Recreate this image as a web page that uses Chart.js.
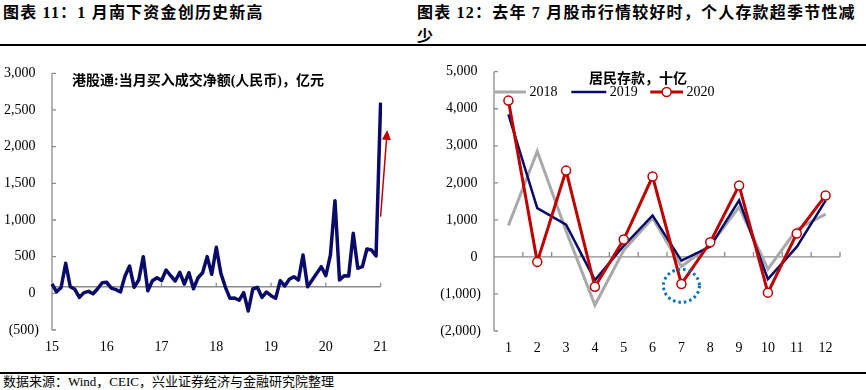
<!DOCTYPE html>
<html>
<head>
<meta charset="utf-8">
<script src="https://cdn.jsdelivr.net/npm/chart.js@4.4.1/dist/chart.umd.min.js"></script>
<style>
body{margin:0;width:866px;height:390px;position:relative;background:#fff;overflow:hidden;font-family:"Liberation Serif","Noto Sans CJK SC",serif;color:#000;}
.ttl{position:absolute;top:1px;font-weight:bold;font-size:16px;line-height:23px;letter-spacing:1.2px;white-space:nowrap;}
.rule{position:absolute;left:0;width:866px;height:2px;background:#000;}
#src{position:absolute;left:3px;top:374px;font-size:13px;line-height:16px;white-space:nowrap;}
canvas{position:absolute;top:60px;}
</style>
</head>
<body>
<div class="ttl" style="left:3px">图表 11：1 月南下资金创历史新高</div>
<div class="ttl" style="left:417px">图表 12：去年 7 月股市行情较好时，个人存款超季节性减<br>少</div>
<div class="rule" style="top:44px"></div>
<canvas id="hkChart" width="410" height="300" style="left:0"></canvas>
<canvas id="depChart" width="433" height="300" style="left:433px"></canvas>
<div class="rule" style="top:372px"></div>
<div id="src">数据来源：Wind，CEIC，兴业证券经济与金融研究院整理</div>
<script>
// left chart: 港股通 monthly net buy, 2015-01 .. 2021-01
const yearLabels=['15','16','17','18','19','20','21'];
const hkMonths=[];
for(let y=2015;y<=2021;y++){
    for(let m=1;m<=12;m++){
        if(y===2021&&m>1) break;
        hkMonths.push(y+'-'+String(m).padStart(2,'0'));
    }
}
const hkNetBuy=[
    130,20,80,410,90,55,-55,10,27,-5,63,145,
    150,72,50,18,236,372,82,181,500,36,172,213,
    175,318,240,168,286,127,281,63,213,281,500,259,
    627,272,82,-68,-64,-95,9,-241,59,82,-55,18,
    -32,-68,172,100,191,227,181,522,90,181,272,363,
    240,522,1263,181,240,236,818,341,363,604,590,509,
    2600
];
const hkCaption='港股通:当月买入成交净额(人民币)，亿元';

// right chart: household deposits by month, 十亿
const depMonths=['1','2','3','4','5','6','7','8','9','10','11','12'];
const dep2018=[850,2850,700,-1300,180,1050,-260,320,1345,-330,740,1155];
const dep2019=[3850,1317,870,-627,300,1120,-100,277,1525,-600,270,1520];
const dep2020=[4220,-134,2330,-806,468,2170,-730,395,1930,-965,630,1660];
const depCaption='居民存款，十亿';

const NAVY='#0a0a6b', RED='#c00000', GREY='#a9a9a9', AXIS='#8c8c8c';
const hkAxisCross=90;

Chart.defaults.font.family="'Liberation Serif','Noto Sans CJK SC',serif";
Chart.defaults.font.size=14;
Chart.defaults.color='#000';

function fmt(v){
    const s=Math.abs(v).toLocaleString('en-US');
    return v<0?'('+s+')':s+' ';
}
// fixed axis width, and no extra top/bottom room for the tick labels
function fitY(w){
    return s=>{s.width=w; s.paddingTop=0; s.paddingBottom=0;};
}

// axes drawn by hand: inside ticks on y, category line crossing mid chart
const hkPlugin={
    id:'hkPlugin',
    beforeDatasetsDraw(chart){
        const {ctx,chartArea:a,scales:{x,y}}=chart;
        ctx.save();
        ctx.strokeStyle=AXIS; ctx.lineWidth=1.3;
        ctx.beginPath();
        ctx.moveTo(a.left,a.top); ctx.lineTo(a.left,a.bottom);
        y.ticks.forEach(t=>{const py=y.getPixelForValue(t.value); ctx.moveTo(a.left,py); ctx.lineTo(a.left+4,py);});
        const py0=y.getPixelForValue(hkAxisCross);
        ctx.moveTo(a.left,py0); ctx.lineTo(a.right,py0);
        yearLabels.forEach((l,k)=>{const px=x.getPixelForValue(k*12); ctx.moveTo(px,py0); ctx.lineTo(px,py0-4);});
        ctx.stroke();
        ctx.restore();
    },
    afterDatasetsDraw(chart){
        const {ctx,scales:{x,y}}=chart;
        ctx.save();
        // red arrow
        const x0=x.getPixelForValue(72.0), y0=y.getPixelForValue(1045);
        const x1=x.getPixelForValue(73.45), y1=y.getPixelForValue(2227);
        const ang=Math.atan2(y1-y0,x1-x0);
        ctx.strokeStyle=RED; ctx.fillStyle=RED; ctx.lineWidth=1.5;
        ctx.beginPath(); ctx.moveTo(x0,y0);
        ctx.lineTo(x1-9*Math.cos(ang),y1-9*Math.sin(ang)); ctx.stroke();
        ctx.beginPath(); ctx.moveTo(x1,y1);
        ctx.lineTo(x1-10*Math.cos(ang)+4.5*Math.sin(ang),y1-10*Math.sin(ang)-4.5*Math.cos(ang));
        ctx.lineTo(x1-10*Math.cos(ang)-4.5*Math.sin(ang),y1-10*Math.sin(ang)+4.5*Math.cos(ang));
        ctx.closePath(); ctx.fill();
        // caption
        ctx.fillStyle='#000';
        ctx.font="bold 14px 'Liberation Serif','Noto Sans CJK SC'";
        ctx.textBaseline='middle';
        ctx.fillText(hkCaption,72,21);
        ctx.restore();
    }
};

new Chart(document.getElementById('hkChart'),{
    type:'line',
    data:{labels:hkMonths,datasets:[{data:hkNetBuy,borderColor:NAVY,borderWidth:3.5,pointRadius:0,tension:0,borderJoinStyle:'round'}]},
    options:{
        responsive:false,animation:false,devicePixelRatio:1,
        layout:{padding:{top:13.3,right:29.4,left:0,bottom:0}},
        plugins:{legend:{display:false},tooltip:{enabled:false}},
        scales:{
            x:{
                grid:{display:false,drawTicks:false},border:{display:false},
                afterFit(s){s.height=30;},
                ticks:{autoSkip:false,maxRotation:0,padding:9,
                    callback:(v,i)=>i%12===0?yearLabels[i/12]:''}
            },
            y:{
                min:-500,max:3000,
                grid:{display:false,drawTicks:false},border:{display:false},
                afterFit:fitY(52),
                ticks:{stepSize:500,padding:13,callback:v=>fmt(v)}
            }
        }
    },
    plugins:[hkPlugin]
});

const depPlugin={
    id:'depPlugin',
    beforeDatasetsDraw(chart){
        const {ctx,chartArea:a,scales:{y}}=chart;
        ctx.save();
        ctx.strokeStyle=AXIS; ctx.lineWidth=1.3;
        ctx.beginPath();
        ctx.moveTo(a.left,a.top); ctx.lineTo(a.left,a.bottom);
        y.ticks.forEach(t=>{const py=y.getPixelForValue(t.value); ctx.moveTo(a.left,py); ctx.lineTo(a.left+4,py);});
        const py0=y.getPixelForValue(0);
        ctx.moveTo(a.left,py0); ctx.lineTo(a.right,py0);
        const w=(a.right-a.left)/depMonths.length;
        depMonths.forEach((m,k)=>{const px=a.left+(k+1)*w; ctx.moveTo(px,py0); ctx.lineTo(px,py0-5);});
        ctx.stroke();
        ctx.restore();
    },
    afterDatasetsDraw(chart){
        const {ctx,scales:{x,y}}=chart;
        ctx.save();
        // dotted circle around July 2020
        ctx.strokeStyle='#0070c0'; ctx.lineWidth=3; ctx.setLineDash([2.5,3]);
        ctx.beginPath();
        ctx.ellipse(x.getPixelForValue(6),y.getPixelForValue(-780),18,16.5,0,0,Math.PI*2);
        ctx.stroke();
        ctx.setLineDash([]);
        // caption + legend
        ctx.fillStyle='#000'; ctx.textBaseline='middle';
        ctx.font="bold 14px 'Noto Sans CJK SC'";
        ctx.textAlign='center';
        ctx.fillText(depCaption,205,18);
        ctx.textAlign='left';
        ctx.font="14px 'Liberation Serif'";
        const items=[[dep2018,GREY,3,61.7,93,false],[dep2019,NAVY,2.5,138.3,173.3,false],[dep2020,RED,3,217.3,250,true]];
        const names=['2018','2019','2020'];
        items.forEach((it,k)=>{
            ctx.strokeStyle=it[1]; ctx.lineWidth=it[2];
            ctx.beginPath(); ctx.moveTo(it[3],32); ctx.lineTo(it[4],32); ctx.stroke();
            if(it[5]){
                ctx.fillStyle='#fff'; ctx.lineWidth=1.5;
                ctx.beginPath(); ctx.arc((it[3]+it[4])/2,32,4.5,0,Math.PI*2); ctx.fill(); ctx.stroke();
            }
            ctx.fillStyle='#000';
            ctx.fillText(names[k],it[4]+3.5,32);
        });
        ctx.restore();
    }
};

new Chart(document.getElementById('depChart'),{
    type:'line',
    data:{labels:depMonths,datasets:[
        {label:'2020',data:dep2020,borderColor:RED,borderWidth:3,pointRadius:4.5,pointBackgroundColor:'#fff',pointBorderColor:RED,pointBorderWidth:1.5,tension:0},
        {label:'2019',data:dep2019,borderColor:NAVY,borderWidth:2.5,pointRadius:0,tension:0},
        {label:'2018',data:dep2018,borderColor:GREY,borderWidth:3,pointRadius:0,tension:0}
    ]},
    options:{
        responsive:false,animation:false,devicePixelRatio:1,
        layout:{padding:{top:11.7,right:26,left:0,bottom:0}},
        plugins:{legend:{display:false},tooltip:{enabled:false}},
        scales:{
            x:{
                offset:true,
                grid:{display:false,drawTicks:false},border:{display:false},
                afterFit(s){s.height=29;},
                ticks:{maxRotation:0,padding:9}
            },
            y:{
                min:-2000,max:5000,
                grid:{display:false,drawTicks:false},border:{display:false},
                afterFit:fitY(61),
                ticks:{stepSize:1000,padding:13,callback:v=>fmt(v)}
            }
        }
    },
    plugins:[depPlugin]
});
</script>
</body>
</html>
